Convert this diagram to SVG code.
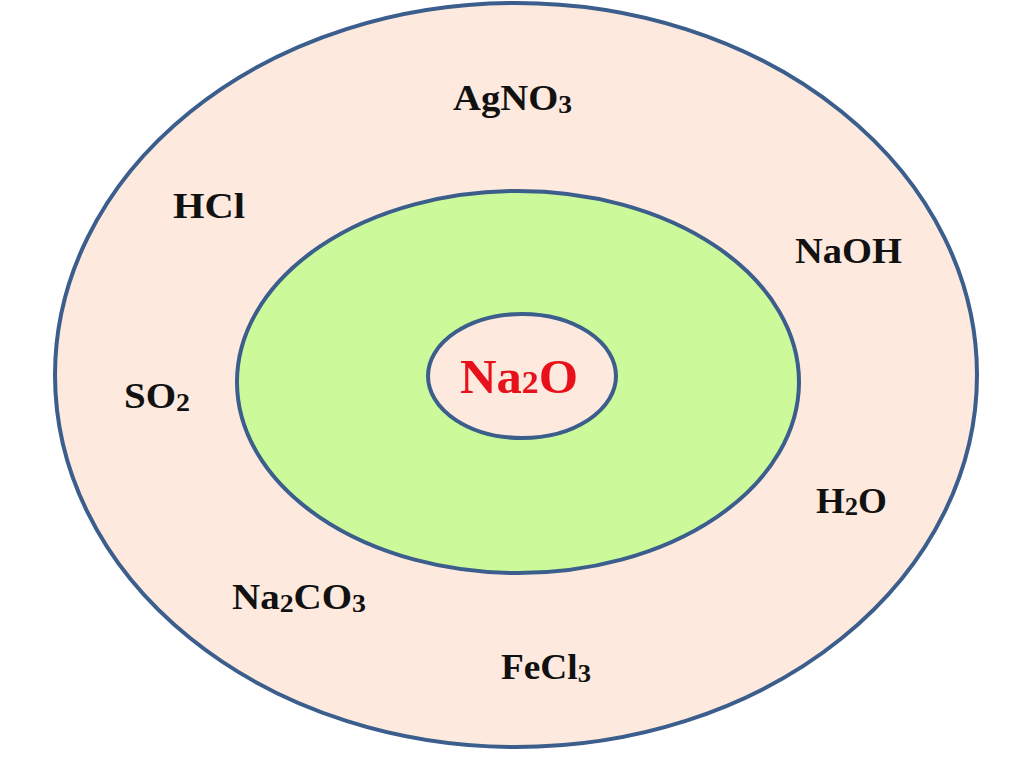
<svg xmlns="http://www.w3.org/2000/svg" width="1024" height="767" viewBox="0 0 1024 767">
<style>
.ring{stroke:#3b5e8c;stroke-width:4}
.lbl{font-family:"Liberation Serif","Times New Roman",serif;font-weight:bold;font-size:35px;fill:#111}
.sub{font-size:25px}
.center{font-family:"Liberation Serif","Times New Roman",serif;font-weight:bold;font-size:48px;fill:#e8101a}
.csub{font-size:32px}
</style>
<rect width="1024" height="767" fill="#ffffff"/>
<g id="outer">
<ellipse class="ring" cx="516" cy="375" rx="461" ry="372" fill="#fde9dd"/>
</g>
<g id="middle">
<ellipse class="ring" cx="518" cy="382" rx="281" ry="191" fill="#ccfa9b"/>
</g>
<g id="inner">
<ellipse class="ring" cx="522" cy="376" rx="94" ry="62" fill="#fde9dd"/>
<text class="center" x="460" y="393" textLength="118" lengthAdjust="spacingAndGlyphs">Na<tspan class="csub">2</tspan>O</text>
</g>
<g id="labels">
<text id="agno3" class="lbl" x="453" y="110" textLength="119" lengthAdjust="spacingAndGlyphs">AgNO<tspan class="sub" dy="3">3</tspan></text>
<text id="hcl" class="lbl" x="173" y="218" textLength="72" lengthAdjust="spacingAndGlyphs">HCl</text>
<text id="naoh" class="lbl" x="795" y="263" textLength="107" lengthAdjust="spacingAndGlyphs">NaOH</text>
<text id="so2" class="lbl" x="124" y="408" textLength="66" lengthAdjust="spacingAndGlyphs">SO<tspan class="sub" dy="3">2</tspan></text>
<text id="h2o" class="lbl" x="816" y="513" textLength="71" lengthAdjust="spacingAndGlyphs">H<tspan class="sub" dy="2">2</tspan><tspan dy="-2">O</tspan></text>
<text id="na2co3" class="lbl" x="232" y="609" textLength="134" lengthAdjust="spacingAndGlyphs">Na<tspan class="sub" dy="3">2</tspan><tspan dy="-3">CO</tspan><tspan class="sub" dy="3">3</tspan></text>
<text id="fecl3" class="lbl" x="501" y="679" textLength="90" lengthAdjust="spacingAndGlyphs">FeCl<tspan class="sub" dy="3">3</tspan></text>
</g>
</svg>
